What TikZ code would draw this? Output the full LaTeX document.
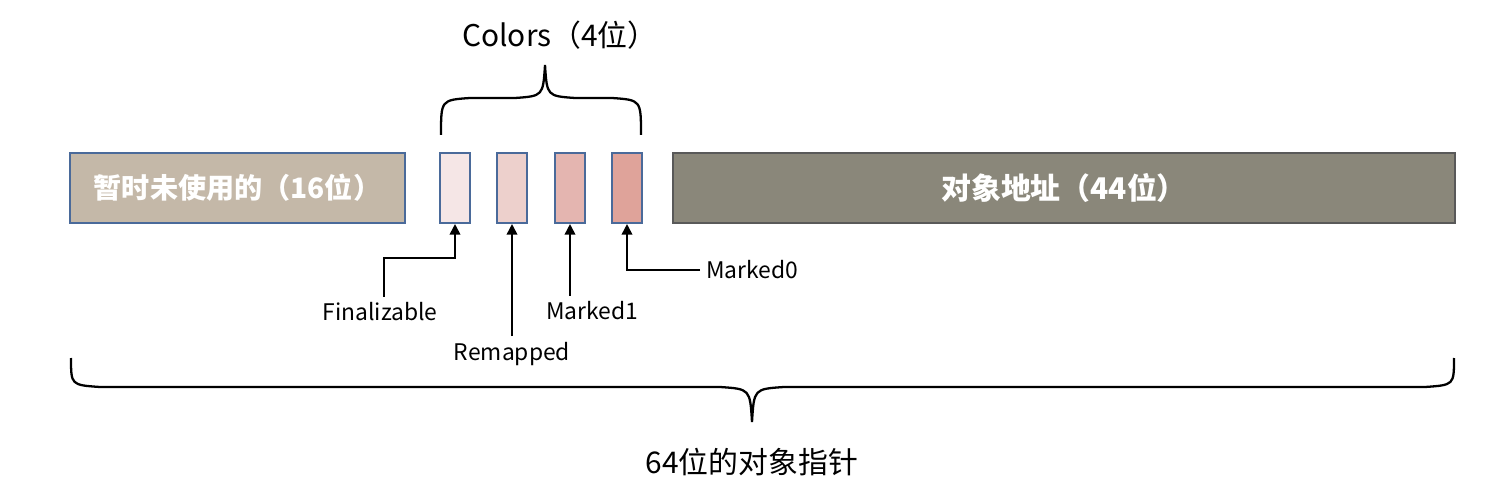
\documentclass[tikz,border=0pt]{standalone}
\usepackage{fontspec}
\setmainfont{Noto Sans CJK SC}
\usetikzlibrary{arrows.meta}
\definecolor{beige}{HTML}{C4B8A8}
\definecolor{dark}{HTML}{8A877A}
\definecolor{bl}{HTML}{4A6A9A}
\definecolor{c1}{HTML}{F5E6E6}
\definecolor{c2}{HTML}{EDD0CC}
\definecolor{c3}{HTML}{E4B5B0}
\definecolor{c4}{HTML}{DFA39A}
\begin{document}
\begin{tikzpicture}[x=0.02cm,y=-0.02cm,
  bit/.style={draw=bl,line width=1.2pt,minimum width=0.6cm,minimum height=1.4cm,inner sep=0},
  lbl/.style={font=\fontsize{13}{15}\selectfont},
  arr/.style={-{Triangle[length=6pt,width=6pt]},line width=1pt},
  brace/.style={line width=1.3pt}]
\useasboundingbox (0,0) rectangle (1500,496);
\node[draw=bl,line width=1.2pt,fill=beige,minimum width=6.7cm,minimum height=1.4cm,inner sep=0,text=white,font=\bfseries\fontsize{16}{18}\selectfont] (u) at (237.5,188) {暂时未使用的（16位）};
\node[draw=black!65,line width=1.2pt,fill=dark,minimum width=15.64cm,minimum height=1.4cm,inner sep=0,text=white,font=\bfseries\fontsize{17}{19}\selectfont] (a) at (1064,188) {对象地址（44位）};
\node[bit,fill=c1] (b1) at (455,188) {};
\node[bit,fill=c2] (b2) at (512,188) {};
\node[bit,fill=c3] (b3) at (570,188) {};
\node[bit,fill=c4] (b4) at (627,188) {};
\node[lbl] (fin) at (380,312) {Finalizable};
\node[lbl] (rem) at (512,354) {Remapped};
\node[lbl] (m1) at (592,311) {Marked1};
\node[lbl,anchor=west] (m0) at (700,270) {Marked0};
\draw[arr] (fin.north -| 384,0) |- (455,258) -- (b1.south);
\draw[arr] (rem.north) -- (b2.south);
\draw[arr] (m1.north -| b3) -- (b3.south);
\draw[arr] (m0.west) -| (b4.south);
\node[font=\fontsize{17}{19}\selectfont] (col) at (560,35) {Colors（4位）};
\coordinate (t1) at (545,65);
\draw[brace] (441,135) .. controls (441,100) .. (470,98) -- (515,98) .. controls (543,96) .. (t1) .. controls (547,96) .. (575,98) -- (612,98) .. controls (641,100) .. (641,135);
\node[font=\fontsize{17}{19}\selectfont] (ptr) at (752,462) {64位的对象指针};
\coordinate (t2) at (752,422);
\draw[brace] (71,358) .. controls (71,385) .. (100,387) -- (720,387) .. controls (750,389) .. (t2) .. controls (754,389) .. (784,387) -- (1425,387) .. controls (1454,385) .. (1454,358);
\end{tikzpicture}
\end{document}
